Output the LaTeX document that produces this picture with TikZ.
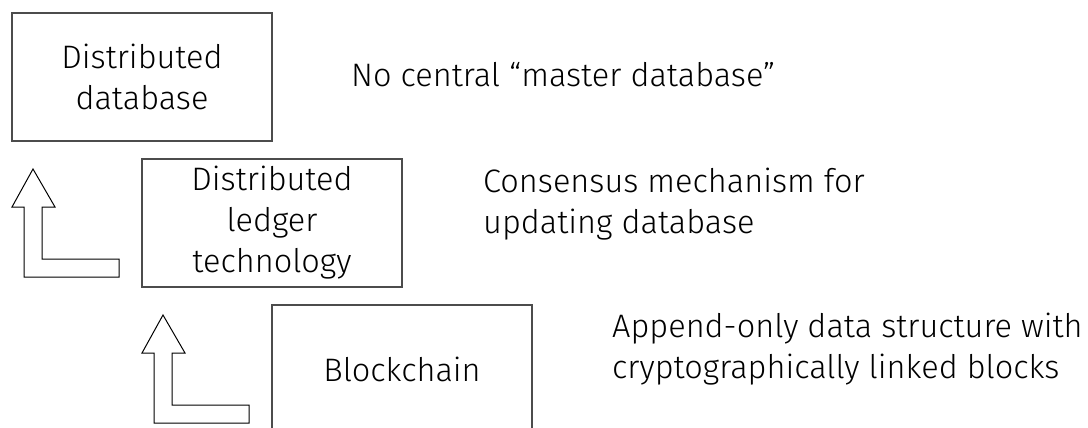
\documentclass[tikz,border=0pt]{standalone}
\usepackage{fontspec}
\setmainfont{Fira Sans}[UprightFont=* Light]
\begin{document}
\begin{tikzpicture}[x=1pt,y=-1pt,
  every node/.style={font=\fontsize{32.5}{41}\selectfont},
  layer/.style={draw=black!70, line width=1.3pt, minimum width=260pt,
    minimum height=128pt, inner sep=0pt, align=center},
  note/.style={inner sep=0pt, anchor=base west, align=left},
  bentup/.pic={
    \draw[line width=1pt, fill=white, line join=miter]
      (-86,-108) -- (-64,-70) -- (-77,-70) -- (-77,-18) -- (0,-18)
      -- (0,0) -- (-95,0) -- (-95,-70) -- (-107,-70) -- cycle;
  }]
  \useasboundingbox (0,0) rectangle (1088,428);
  \clip (0,0) rectangle (1088,428);

  % the three layers, most general at the top
  \node[layer] (ddb) at (142,77)  {Distributed\\database};
  \node[layer] (dlt) at (272,223) {Distributed\\ledger\\technology};
  \node[layer] (bc)  at (402,369) {Blockchain};

  % what each layer adds (base anchor sits midway between the two lines)
  \node[note] (ddbnote) at (351,87)  {No central “master database”};
  \node[note] (dltnote) at (483,233) {Consensus mechanism for\\updating database};
  \node[note] (bcnote)  at (612,378) {Append-only data structure with\\cryptographically linked blocks};

  % bent arrows leading up to the more general layer
  \pic at (119,277) {bentup};
  \pic at (249,423) {bentup};
\end{tikzpicture}
\end{document}
